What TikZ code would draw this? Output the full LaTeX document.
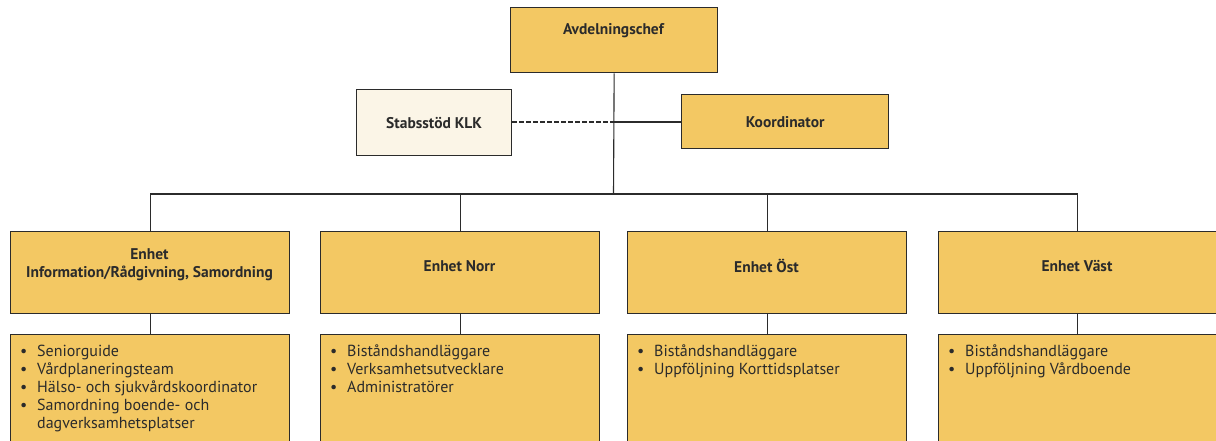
\documentclass[tikz,border=0pt]{standalone}
\usepackage{fontspec}
\setmainfont{PT Sans}
\definecolor{gold}{HTML}{F3C863}
\definecolor{cream}{HTML}{FBF5E7}
\definecolor{ink}{HTML}{2B2B2B}
\tikzset{
  box/.style={draw=ink, line width=1.3pt, fill=gold, inner sep=0pt, anchor=north west},
  head/.style={font=\bfseries\fontsize{15.5}{18}\selectfont, text=ink, align=center, inner sep=0pt},
  lst/.style={font=\fontsize{16}{18}\selectfont, text=ink, align=left, anchor=north west, inner sep=0pt},
  link/.style={draw=ink, line width=1.1pt},
}
\newcommand{\bl}{\makebox[17pt][l]{\textbullet}}
\begin{document}
\begin{tikzpicture}[x=1pt,y=-1pt]
\useasboundingbox (0,0) rectangle (1216,441);
\clip (0,0) rectangle (1216,441);
% top
\node[box, minimum width=207pt, minimum height=65pt] (chef) at (510,7) {};
\node[head] (chefT) at (613.5,31) {Avdelningschef};
\node[box, fill=cream, minimum width=155pt, minimum height=66pt] (stab) at (356,89) {};
\node[head] (stabT) at (stab.center) {Stabsstöd KLK};
\node[box, minimum width=207pt, minimum height=54pt] (koord) at (681,94) {};
\node[head] (koordT) at (koord.center) {Koordinator};
\coordinate (trunkB) at (613.5,194);
\coordinate (mid) at (613.5,122);
\draw[link] (chef.south) -- (trunkB);
\draw[link, dashed, dash pattern=on 4.5pt off 2.5pt] (stab.east |- mid) -- (mid);
\draw[link] (mid) -- (koord.west |- mid);
% units
\node[box, minimum width=279pt, minimum height=82pt] (u1) at (10,231) {};
\node[box, minimum width=279pt, minimum height=82pt] (u2) at (320,231) {};
\node[box, minimum width=279pt, minimum height=82pt] (u3) at (627,231) {};
\node[box, minimum width=278pt, minimum height=82pt] (u4) at (938,231) {};
\node[head] (u1T) at (149.5,265) {Enhet\\Information/Rådgivning, Samordning};
\node[head] (u2T) at (459.5,266) {Enhet Norr};
\node[head] (u3T) at (766.5,266) {Enhet Öst};
\node[head] (u4T) at (1077,266) {Enhet Väst};
% bus
\draw[link] (u1.north |- trunkB) -- (u4.north |- trunkB);
\foreach \u in {u1,u2,u3,u4}{\draw[link] (\u.north |- trunkB) -- (\u.north);}
% lists
\node[box, minimum width=279pt, minimum height=130pt] (l1) at (10,334) {};
\node[box, minimum width=279pt, minimum height=130pt] (l2) at (320,334) {};
\node[box, minimum width=279pt, minimum height=130pt] (l3) at (627,334) {};
\node[box, minimum width=278pt, minimum height=130pt] (l4) at (938,334) {};
\foreach \i in {1,2,3,4}{\draw[link] (u\i.south) -- (l\i.north);}
\node[lst] (l1T) at (20,345) {\bl Seniorguide\\\bl Vårdplaneringsteam\\\bl Hälso- och sjukvårdskoordinator\\\bl Samordning boende- och\\\hspace*{17pt}dagverksamhetsplatser};
\node[lst] (l2T) at (330,345) {\bl Biståndshandläggare\\\bl Verksamhetsutvecklare\\\bl Administratörer};
\node[lst] (l3T) at (637,345) {\bl Biståndshandläggare\\\bl Uppföljning Korttidsplatser};
\node[lst] (l4T) at (948,345) {\bl Biståndshandläggare\\\bl Uppföljning Vårdboende};
\end{tikzpicture}
\end{document}
